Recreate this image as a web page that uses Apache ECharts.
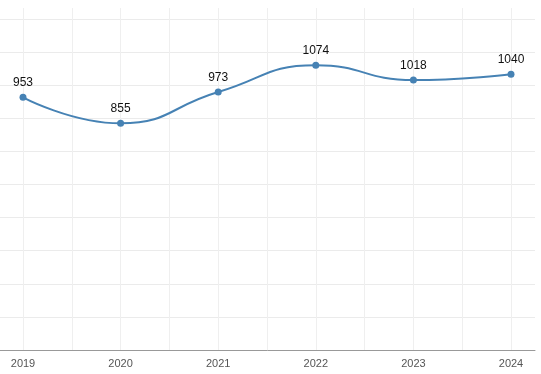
<!DOCTYPE html>
<html>
<head>
<meta charset="utf-8">
<script src="https://cdn.jsdelivr.net/npm/echarts@6/dist/echarts.min.js"></script>
<style>html,body{margin:0;padding:0;background:#fff}#c{width:541px;height:374px}</style>
</head>
<body>
<div id="c"></div>
<script>
var years = ['2019', '2020', '2021', '2022', '2023', '2024'];
var values = [953, 855, 973, 1074, 1018, 1040];

var chart = echarts.init(document.getElementById('c'), null, {renderer: 'canvas'});
chart.setOption({
  animation: false,
  grid: [
    {left: 0, right: 6, top: 19, bottom: 24},
    {left: 23, right: 30, top: 8, bottom: 24}
  ],
  xAxis: [
    {gridIndex: 0, type: 'value', min: 0, max: 1, show: true,
     axisLine: {show: true, lineStyle: {color: '#999', width: 1}},
     axisTick: {show: false}, axisLabel: {show: false}, splitLine: {show: false}},
    {gridIndex: 1, type: 'category', data: years, boundaryGap: false,
     axisLine: {show: false}, axisTick: {show: false},
     axisLabel: {color: '#555', fontSize: 11, fontFamily: 'Arial, Liberation Sans, sans-serif', margin: 8},
     splitLine: {show: false}},
    {gridIndex: 1, type: 'value', min: 0, max: 5, interval: 0.5,
     axisLine: {show: false}, axisTick: {show: false}, axisLabel: {show: false},
     splitLine: {show: true, lineStyle: {color: '#efefef', width: 1}}}
  ],
  yAxis: [
    {gridIndex: 0, type: 'value', min: 0, max: 1250, interval: 125,
     axisLine: {show: false}, axisTick: {show: false}, axisLabel: {show: false},
     splitLine: {show: true, lineStyle: {color: '#ebebeb', width: 1}}},
    {gridIndex: 1, type: 'value', min: 0, max: 1290,
     axisLine: {show: false}, axisTick: {show: false}, axisLabel: {show: false},
     splitLine: {show: false}}
  ],
  series: [{
    type: 'line',
    xAxisIndex: 1,
    yAxisIndex: 1,
    data: values,
    smooth: 0.5,
    symbol: 'circle',
    symbolSize: 7,
    lineStyle: {color: '#4682b4', width: 2},
    itemStyle: {color: '#4682b4'},
    label: {show: true, position: 'top', distance: 5, color: '#111', fontSize: 12,
            fontFamily: 'Arial, Liberation Sans, sans-serif'},
    z: 5
  }]
});
</script>
</body>
</html>
